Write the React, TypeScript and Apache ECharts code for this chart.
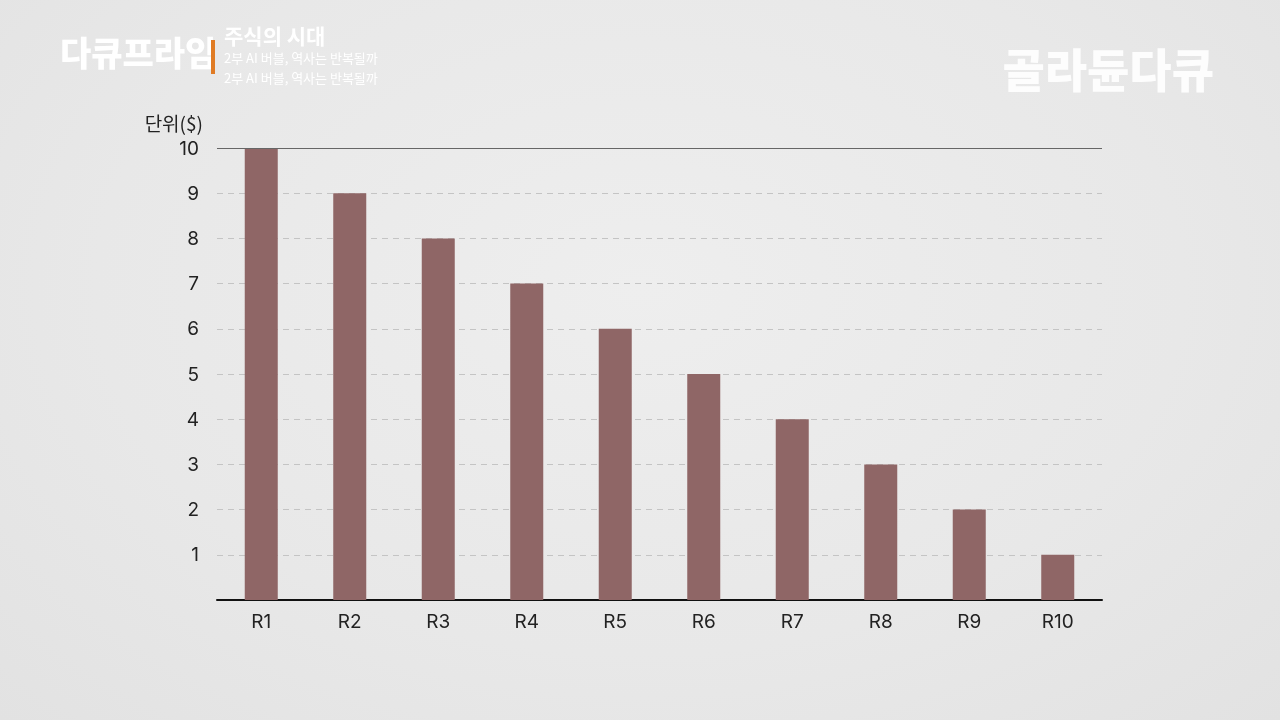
import React, { useEffect, useRef } from "react";
import * as echarts from "echarts";

const categories = ["R1", "R2", "R3", "R4", "R5", "R6", "R7", "R8", "R9", "R10"];
const values = [10, 9, 8, 7, 6, 5, 4, 3, 2, 1];
const yTicks = [1, 2, 3, 4, 5, 6, 7, 8, 9, 10];
const unitLabel = "단위($)";
const brand = "다큐프라임";
const title = "주식의 시대";
const subtitle = "2부 AI 버블, 역사는 반복될까";
const logo = "골라듄다큐";

export default function App() {
  const ref = useRef<HTMLDivElement>(null);
  useEffect(() => {
    const chart = echarts.init(ref.current!, undefined, { renderer: "svg" });
    chart.setOption({
      animation: false,
      backgroundColor: "transparent",
      grid: { left: 217, right: 178, top: 148, bottom: 120 },
      xAxis: {
        type: "category",
        data: categories,
        axisLine: { lineStyle: { color: "#111", width: 2 } },
        axisTick: { show: false },
        axisLabel: { color: "#222", fontSize: 19, margin: 12, fontFamily: "Inter" },
      },
      yAxis: {
        type: "value",
        min: 0,
        max: 10,
        interval: 1,
        name: unitLabel,
        nameLocation: "end",
        nameGap: 16,
        nameTextStyle: { color: "#222", fontSize: 19, align: "right", padding: [0, 14, 0, 0], fontFamily: "Noto Sans CJK KR" },
        axisLine: { show: false },
        axisTick: { show: false },
        axisLabel: {
          color: "#222",
          fontSize: 19,
          margin: 18,
          fontFamily: "Inter",
          formatter: (v: number) => (yTicks.includes(v) ? String(v) : ""),
        },
        splitLine: { lineStyle: { color: "#c4c4c4", type: [6, 5], width: 1 } },
      },
      series: [
        {
          type: "bar",
          data: values,
          barWidth: 33,
          itemStyle: { color: "#8f6666" },
          markLine: {
            silent: true,
            symbol: "none",
            label: { show: false },
            lineStyle: { color: "#666", type: "solid", width: 1 },
            data: [{ yAxis: 10 }],
          },
          z: 3,
        },
      ],
      graphic: [
        {
          type: "text",
          left: 60,
          top: 34,
          style: {
            text: brand,
            fill: "#ffffff",
            font: "900 34px 'Noto Sans CJK KR'",
            shadowColor: "rgba(0,0,0,0.25)",
            shadowBlur: 4,
          },
        },
        { type: "rect", shape: { x: 211, y: 40, width: 4, height: 34 }, style: { fill: "#e07b24" } },
        {
          type: "text",
          left: 224,
          top: 23,
          style: { text: title, fill: "#ffffff", font: "700 21px 'Noto Sans CJK KR'", lineHeight: 24, shadowColor: "rgba(0,0,0,0.3)", shadowBlur: 3 },
        },
        {
          type: "text",
          left: 224,
          top: 50,
          style: { text: subtitle, fill: "#ffffff", font: "400 13px 'Noto Sans CJK KR'", lineHeight: 14, shadowColor: "rgba(0,0,0,0.3)", shadowBlur: 3 },
        },
        {
          type: "text",
          left: 224,
          top: 70,
          style: { text: subtitle, fill: "#ffffff", font: "400 13px 'Noto Sans CJK KR'", lineHeight: 14, shadowColor: "rgba(0,0,0,0.3)", shadowBlur: 3 },
        },
        {
          type: "text",
          right: 66,
          top: 44,
          style: { text: logo, fill: "#ffffff", font: "900 46px 'Noto Sans CJK KR'", opacity: 0.9 },
        },
      ],
    });
    return () => chart.dispose();
  }, []);
  return (
    <div
      style={{
        position: "fixed",
        left: 0,
        top: 0,
        width: 1280,
        height: 720,
        background: "radial-gradient(ellipse at 50% 40%, #eeeeee 0%, #e8e8e8 60%, #e2e2e2 100%)",
      }}
    >
      <div ref={ref} style={{ width: 1280, height: 720 }} />
    </div>
  );
}
